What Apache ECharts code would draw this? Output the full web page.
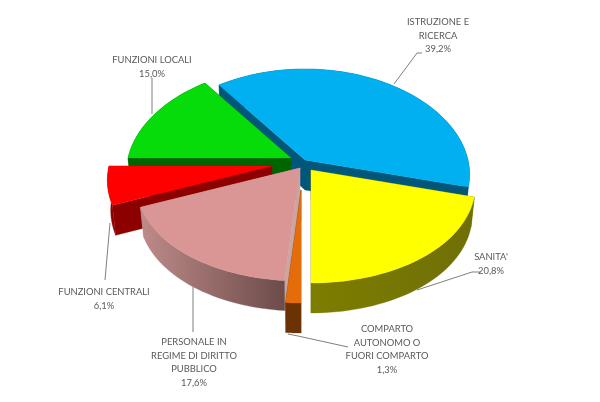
<!DOCTYPE html>
<html><head><meta charset="utf-8">
<style>html,body{margin:0;padding:0;background:#fff}#c{width:600px;height:402px}</style>
<script src="https://cdn.jsdelivr.net/npm/echarts@6/dist/echarts.min.js"></script>
</head><body><div id="c"></div>
<script>
const categories = ["ISTRUZIONE E\nRICERCA","SANITA'","COMPARTO\nAUTONOMO O\nFUORI COMPARTO","PERSONALE IN\nREGIME DI DIRITTO\nPUBBLICO","FUNZIONI CENTRALI","FUNZIONI LOCALI"];
const values = [39.2,20.8,1.3,17.6,6.1,15.0];
const topColors = ['#00B0F0','#FFFF00','#E46C0A','#D99694','#FF0000','#05DC0A'];
const cutColors = ['#00577A','#6F6F00','#6B3303','#C9A5A3','#8C0000','#006400'];
const wallLeft  = ['#00577A','#7D7D00','#6B3303','#BE8B89','#8C0000','#006400'];
const wallRight = ['#00577A','#6F6F08','#6B3303','#6C4B4A','#8C0000','#006400'];
const drawOrder = [0,5,4,3,2,1];
// explode offsets of each slice from the pie centre (px)
const explodeX = [6,12,2,1,-27,-8];
const explodeY = [-5,5,25,3,1,-7];
const startAngle = -36;
const centre = [299,165], rx = 163, ry = 100.8, persp = 0.108, perspX = 0.14, depth = 30, shrink = 0.98;

const total = values.reduce((a,b)=>a+b,0);
function angles(i){
  let s = startAngle;
  for(let j=0;j<i;j++) s += values[j]/total*360;
  return [s, s+values[i]/total*360];
}
function proj(a,ax,ay){
  const r=a*Math.PI/180,u=Math.sin(r),v=-Math.cos(r);
  return [ax+rx*u/(1-perspX*v), ay+ry*v/(1-persp*v)];
}
function low(pt,ax){ return [ax+(pt[0]-ax)*shrink, pt[1]+depth]; }

function renderItem(params){
  const i=params.dataIndex, [a0,a1]=angles(i);
  const ax=centre[0]+explodeX[i], ay=centre[1]+explodeY[i];
  const arc=[]; const n=Math.max(6,Math.ceil((a1-a0)/2));
  for(let k=0;k<=n;k++) arc.push(proj(a0+(a1-a0)*k/n,ax,ay));
  const lowArc=arc.map(p=>low(p,ax));
  const apex=[ax,ay], apexLow=[ax,ay+depth];
  const z=drawOrder.indexOf(i)*10;
  const poly=(pts,fill,dz)=>({type:'polygon',z2:z+dz,shape:{points:pts},style:{fill:fill,stroke:fill,lineWidth:0.3}});
  const grad=new echarts.graphic.LinearGradient(0,0,1,0,[{offset:0,color:wallLeft[i]},{offset:1,color:wallRight[i]}]);
  return {type:'group',children:[
    poly([apex,arc[0],lowArc[0],apexLow],cutColors[i],0),
    poly([apex,arc[n],lowArc[n],apexLow],cutColors[i],1),
    poly(arc.concat(lowArc.slice().reverse()),grad,2),
    poly([apex].concat(arc),topColors[i],3)
  ]};
}

const fmt=v=>v.toFixed(1).replace('.',',')+'%';
const labelAt=[[438,22],[491,257],[387,329],[194,342],[104,292],[152,60]];
const leaders=[
  [[422,53],[417,53],[394,84]],
  [[480,272],[472,272],[417,290]],
  [[348,347],[298,336],[288,334]],
  [[193,332],[193,287]],
  [[105,280],[110,223]],
  [[152,78],[152,114]]
];
const lineH=13.5;
const graphics=[];
categories.forEach((c,i)=>{
  const txt=c+'\n'+fmt(values[i]);
  graphics.push({type:'text',x:labelAt[i][0],y:labelAt[i][1]-lineH/2,z:20,silent:true,
    style:{text:txt,fill:'#595959',font:'9.4px Lato',align:'center',verticalAlign:'top',lineHeight:lineH}});
  graphics.push({type:'polyline',z:15,silent:true,shape:{points:leaders[i]},style:{stroke:'#7F7F7F',lineWidth:1,fill:null}});
});

const chart=echarts.init(document.getElementById('c'),null,{renderer:'canvas'});
chart.setOption({
  animation:false,backgroundColor:'#fff',
  series:[{type:'custom',coordinateSystem:'none',silent:true,renderItem:renderItem,data:values,z:5}],
  graphic:graphics
});
</script></body></html>
